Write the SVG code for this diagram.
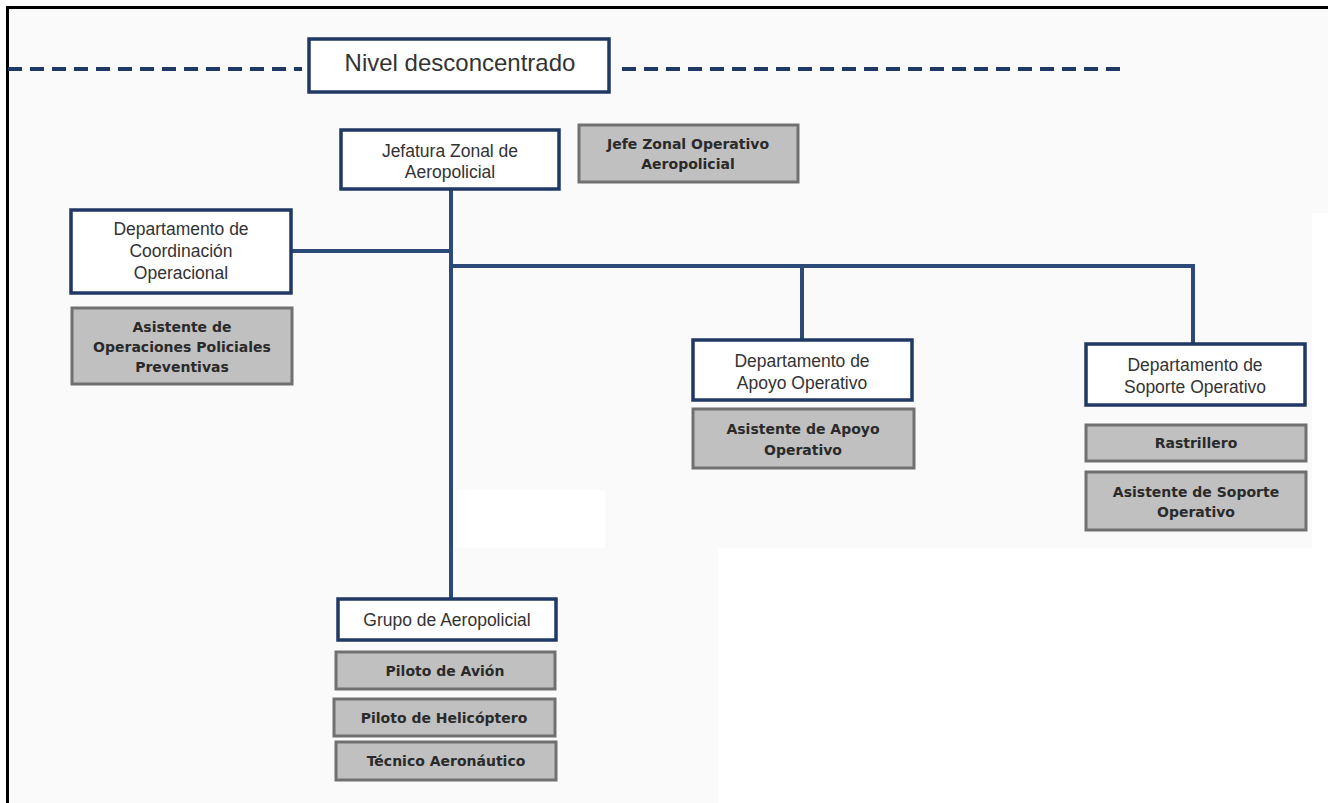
<svg xmlns="http://www.w3.org/2000/svg" width="1328" height="803" viewBox="0 0 1328 803">
<style>
.unit{fill:#ffffff;stroke:#1f3864;stroke-width:3.5}
.pos{fill:#c0c0c0;stroke:#707070;stroke-width:3}
.t{font-family:"Liberation Sans",Arial,sans-serif;font-size:17.5px;fill:#333333;text-anchor:middle}
.b{font-family:"DejaVu Sans",Verdana,sans-serif;font-size:14px;font-weight:bold;fill:#2a2a2a;text-anchor:middle}
.c{fill:none;stroke:#2b4a78;stroke-width:4}
</style>
<rect x="0" y="0" width="1328" height="803" fill="#ffffff"/>
<rect x="8" y="8" width="1320" height="795" fill="#fafafa"/>
<rect x="455" y="490" width="150" height="58" fill="#ffffff"/>
<rect x="718" y="548" width="610" height="255" fill="#ffffff"/>
<rect x="1312" y="213" width="16" height="340" fill="#ffffff"/>
<line x1="7" y1="7.5" x2="1328" y2="7.5" stroke="#000" stroke-width="3"/>
<line x1="7.5" y1="6" x2="7.5" y2="803" stroke="#000" stroke-width="3"/>
<g id="connectors">
<line x1="8" y1="69" x2="302" y2="69" stroke="#1f3864" stroke-width="4" stroke-dasharray="14 8"/>
<line x1="622" y1="69" x2="1128" y2="69" stroke="#1f3864" stroke-width="4" stroke-dasharray="14 8"/>
<path class="c" d="M451 189 V598"/>
<path class="c" d="M291 251 H451"/>
<path class="c" d="M451 266 H1193 V343"/>
<path class="c" d="M802 266 V340"/>
</g>
<g id="nivel">
<rect class="unit" x="309" y="39" width="300" height="53"/>
<text class="t" x="460" y="71" style="font-size:24px">Nivel desconcentrado</text>
</g>
<g id="jefatura">
<rect class="unit" x="341" y="130" width="218" height="59"/>
<text class="t" x="450" y="157">Jefatura Zonal de</text>
<text class="t" x="450" y="178">Aeropolicial</text>
</g>
<g id="jefe-zonal">
<rect class="pos" x="579" y="125" width="219" height="57"/>
<text class="b" x="688" y="149">Jefe Zonal Operativo</text>
<text class="b" x="688" y="169">Aeropolicial</text>
</g>
<g id="dep-coordinacion">
<rect class="unit" x="71" y="210" width="220" height="83"/>
<text class="t" x="181" y="235">Departamento de</text>
<text class="t" x="181" y="257">Coordinación</text>
<text class="t" x="181" y="279">Operacional</text>
</g>
<g id="asist-operaciones">
<rect class="pos" x="72" y="308" width="220" height="76"/>
<text class="b" x="182" y="332">Asistente de</text>
<text class="b" x="182" y="352">Operaciones Policiales</text>
<text class="b" x="182" y="372">Preventivas</text>
</g>
<g id="dep-apoyo">
<rect class="unit" x="693" y="340" width="219" height="60"/>
<text class="t" x="802" y="367">Departamento de</text>
<text class="t" x="802" y="389">Apoyo Operativo</text>
</g>
<g id="asist-apoyo">
<rect class="pos" x="693" y="409" width="221" height="59"/>
<text class="b" x="803" y="434">Asistente de Apoyo</text>
<text class="b" x="803" y="455">Operativo</text>
</g>
<g id="dep-soporte">
<rect class="unit" x="1086" y="344" width="219" height="61"/>
<text class="t" x="1195" y="371">Departamento de</text>
<text class="t" x="1195" y="393">Soporte Operativo</text>
</g>
<g id="rastrillero">
<rect class="pos" x="1086" y="425" width="220" height="36"/>
<text class="b" x="1196" y="448">Rastrillero</text>
</g>
<g id="asist-soporte">
<rect class="pos" x="1086" y="472" width="220" height="58"/>
<text class="b" x="1196" y="497">Asistente de Soporte</text>
<text class="b" x="1196" y="517">Operativo</text>
</g>
<g id="grupo">
<rect class="unit" x="338" y="599" width="218" height="41"/>
<text class="t" x="447" y="626">Grupo de Aeropolicial</text>
</g>
<g id="piloto-avion">
<rect class="pos" x="336" y="652" width="219" height="37"/>
<text class="b" x="445" y="676">Piloto de Avión</text>
</g>
<g id="piloto-helicoptero">
<rect class="pos" x="334" y="699" width="221" height="37"/>
<text class="b" x="444" y="723">Piloto de Helicóptero</text>
</g>
<g id="tecnico">
<rect class="pos" x="336" y="742" width="220" height="38"/>
<text class="b" x="446" y="766">Técnico Aeronáutico</text>
</g>
</svg>
